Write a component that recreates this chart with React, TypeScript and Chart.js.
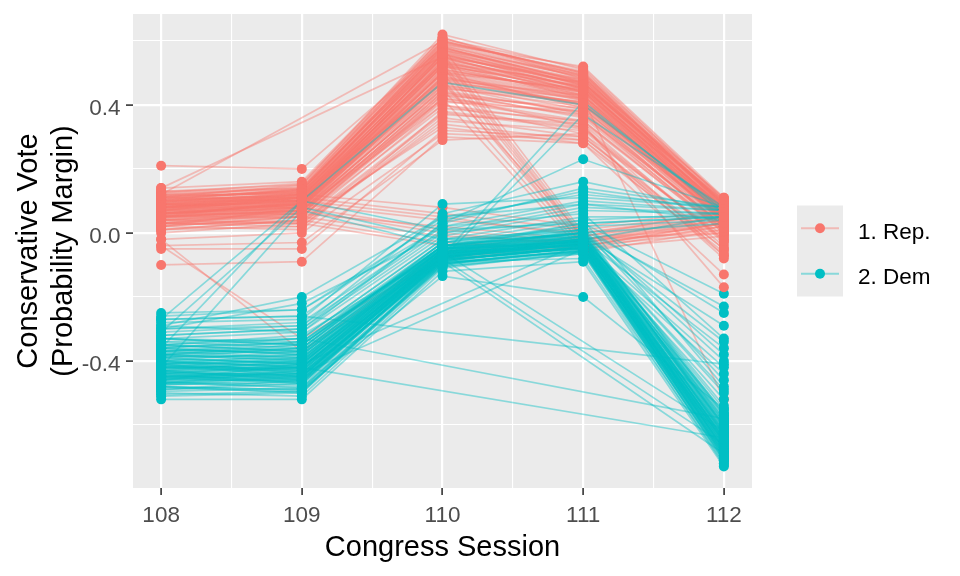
import React, { useEffect, useRef } from "react";
import { Chart, registerables } from "chart.js";

Chart.register(...registerables);

// ---------- data ----------
const sessions = [108, 109, 110, 111, 112];
const xTickLabels = ["108", "109", "110", "111", "112"];
const yTickValues = [-0.4, 0, 0.4];
const yTickLabels = ["-0.4", "0.0", "0.4"];
const xGridValues = [108, 108.5, 109, 109.5, 110, 110.5, 111, 111.5, 112];
const yGridValues = [-0.6, -0.4, -0.2, 0, 0.2, 0.4, 0.6];
const partyLabels = ["1. Rep.", "2. Dem"];
const xTitle = "Congress Session";
const yTitleLines = ["Conservative Vote", "(Probability Margin)"];

// Republicans: one entry per legislator in each session (null = absent)
const rep108 = [
  0.01, 0.02, 0.0, 0.03, 0.02, 0.04, 0.03, 0.05, 0.04, 0.06,
  0.05, 0.07, 0.06, 0.08, 0.07, 0.06, 0.08, 0.09, 0.07, 0.08,
  0.09, 0.1, 0.08, 0.09, 0.1, 0.11, 0.09, 0.1, 0.11, 0.12,
  0.1, 0.11, 0.12, 0.13, 0.12, 0.11, 0.14, 0.06, 0.07, 0.05,
  0.08, 0.09, 0.04, 0.1, 0.07, 0.03, 0.01, -0.02, -0.04, 0.13,
  0.08, 0.06, 0.09, 0.05, 0.11, -0.05, 0.06, 0.08, 0.05, 0.09,
  0.07, 0.1, 0.04, 0.04, 0.02, 0.06, 0.03, 0.05, 0.01, 0.07,
  0.03, 0.08, 0.02, 0.14, 0.12, 0.21, -0.1, -0.04, -0.02, 0.05,
  0.08, 0.03, 0.055, 0.075, 0.085, 0.105, 0.095, 0.065, 0.045, 0.115,
  0.125, 0.035, 0.085, 0.075, 0.095, 0.105, 0.065, 0.055, 0.085, 0.115,
  0.025, 0.095, 0.075, 0.105, 0.045, 0.125, 0.065, 0.085, 0.095, 0.055,
  0.115, 0.075, 0.06, 0.08, 0.05,
];
const rep109 = [
  0.02, 0.01, 0.03, 0.04, 0.05, 0.03, 0.06, 0.05, 0.07, 0.06,
  0.08, 0.07, 0.09, 0.08, 0.1, 0.07, 0.09, 0.11, 0.08, 0.1,
  0.09, 0.11, 0.12, 0.1, 0.12, 0.11, 0.13, 0.12, 0.13, 0.12,
  0.14, 0.13, 0.14, 0.15, 0.13, 0.15, 0.16, 0.08, 0.09, 0.06,
  0.1, 0.08, 0.05, 0.1, 0.11, 0.02, 0.04, 0.0, -0.03, 0.14,
  0.11, 0.09, 0.12, 0.07, 0.1, -0.05, 0.08, 0.1, 0.07, 0.11,
  0.09, 0.12, 0.06, 0.06, 0.05, 0.09, 0.07, 0.1, 0.04, 0.11,
  0.03, 0.12, 0.08, null, null, 0.2, -0.09, -0.33, -0.37, 0.07,
  0.1, 0.05, 0.065, 0.095, 0.115, 0.135, 0.115, 0.075, 0.065, 0.125,
  0.155, 0.055, 0.095, 0.105, 0.125, 0.115, 0.085, 0.085, 0.125, 0.145,
  0.035, 0.105, 0.085, 0.135, 0.075, 0.135, 0.095, 0.105, 0.135, 0.095,
  0.125, 0.115, 0.09, 0.11, 0.08,
];
const rep110 = [
  0.36, 0.38, 0.34, 0.4, 0.42, 0.37, 0.44, 0.41, 0.46, 0.43,
  0.48, 0.45, 0.5, 0.47, 0.52, 0.49, 0.51, 0.53, 0.5, 0.54,
  0.52, 0.55, 0.56, 0.53, 0.57, 0.55, 0.58, 0.56, 0.59, 0.57,
  0.6, 0.58, 0.61, 0.62, 0.59, 0.6, 0.61, 0.46, 0.48, 0.44,
  0.51, 0.49, 0.39, 0.54, 0.55, 0.35, 0.33, 0.31, 0.29, 0.57,
  0.53, 0.47, 0.56, 0.42, 0.52, 0.32, 0.5, 0.55, 0.45, 0.58,
  0.52, 0.47, 0.42, 0.02, -0.01, 0.04, 0.0, 0.05, -0.03, 0.06,
  -0.04, 0.08, 0.01, 0.55, 0.6, 0.58, 0.3, -0.08, -0.06, 0.4,
  0.5, 0.43, 0.455, 0.495, 0.545, 0.585, 0.555, 0.475, 0.435, 0.575,
  0.605, 0.415, 0.525, 0.515, 0.565, 0.545, 0.485, 0.465, 0.555, 0.595,
  0.375, 0.535, 0.505, 0.575, 0.445, 0.585, 0.505, 0.535, 0.595, 0.485,
  0.565, 0.525, 0.53, 0.48, 0.56,
];
const rep111 = [
  0.3, 0.33, 0.29, 0.31, 0.35, 0.34, 0.36, 0.38, 0.37, 0.39,
  0.4, 0.41, 0.39, 0.42, 0.43, 0.4, 0.44, 0.42, 0.45, 0.43,
  0.46, 0.44, 0.45, 0.47, 0.46, 0.48, 0.47, 0.45, 0.49, 0.48,
  0.5, 0.47, 0.49, 0.51, 0.52, 0.5, 0.48, 0.41, 0.43, 0.38,
  0.44, 0.42, 0.35, 0.46, 0.44, 0.32, 0.28, 0.29, 0.31, 0.49,
  0.45, 0.4, 0.47, 0.37, 0.43, 0.3, -0.04, -0.02, -0.05, 0.0,
  -0.03, -0.01, -0.06, -0.02, -0.03, 0.0, -0.04, -0.01, -0.05, 0.01,
  -0.02, 0.02, -0.03, 0.47, 0.5, 0.46, 0.28, -0.04, -0.02, 0.34,
  0.42, 0.33, 0.395, 0.415, 0.455, 0.485, 0.465, 0.405, 0.365, 0.495,
  0.515, 0.345, 0.445, 0.425, 0.475, 0.455, 0.415, 0.385, 0.465, 0.505,
  0.325, 0.435, 0.445, 0.475, 0.375, 0.485, 0.425, 0.455, 0.495, 0.405,
  0.465, 0.445, -0.02, -0.04, -0.01,
];
const rep112 = [
  -0.04, -0.02, -0.05, -0.01, 0.0, -0.03, 0.01, 0.02, 0.0, 0.03,
  0.02, 0.04, 0.01, 0.05, 0.03, 0.06, 0.04, 0.05, 0.07, 0.06,
  0.04, 0.07, 0.05, 0.08, 0.06, 0.07, 0.09, 0.08, 0.06, 0.09,
  0.08, 0.1, 0.09, 0.1, 0.11, 0.1, 0.11, 0.03, 0.05, 0.02,
  0.06, 0.04, 0.01, 0.07, 0.05, -0.02, -0.06, -0.07, -0.08, 0.09,
  0.08, 0.04, 0.07, 0.02, 0.06, -0.05, 0.03, 0.05, 0.02, 0.06,
  0.04, 0.07, 0.01, 0.03, 0.01, 0.05, 0.02, 0.04, -0.01, 0.06,
  0.0, 0.07, 0.03, 0.08, 0.09, 0.1, -0.13, 0.0, 0.02, -0.17,
  -0.52, -0.07, 0.035, 0.055, 0.065, 0.085, 0.075, 0.045, 0.025, 0.095,
  0.105, 0.005, 0.065, 0.055, 0.085, 0.075, 0.035, 0.045, 0.095, 0.105,
  -0.025, 0.065, 0.055, 0.085, 0.015, 0.095, 0.045, 0.075, 0.085, 0.035,
  0.075, 0.065, 0.04, 0.03, 0.05,
];

// Democrats
const dem108 = [
  -0.5, -0.48, -0.51, -0.47, -0.49, -0.46, -0.45, -0.47, -0.44, -0.46,
  -0.43, -0.45, -0.42, -0.44, -0.41, -0.43, -0.4, -0.42, -0.39, -0.41,
  -0.38, -0.4, -0.37, -0.39, -0.36, -0.38, -0.35, -0.37, -0.34, -0.36,
  -0.33, -0.49, -0.48, -0.45, -0.43, -0.47, -0.42, -0.44, -0.4, -0.46,
  -0.41, -0.52, -0.3, -0.27, -0.32, -0.29, -0.34, -0.31, -0.36, -0.28,
  -0.33, -0.38, -0.26, -0.35, -0.36, -0.4, -0.33, -0.42, -0.37, -0.44,
  -0.39, -0.45, -0.35, -0.41, -0.47, -0.38, -0.31, -0.42, -0.36, -0.27,
  -0.4, -0.38, -0.44, -0.41, -0.46, -0.35, -0.27, -0.43, -0.45, -0.42,
  -0.48, -0.32, -0.25, -0.29, -0.3, -0.445, -0.475, -0.415, -0.385, -0.455,
  -0.495, -0.435, -0.405, -0.465, -0.425, -0.365, -0.485, -0.445, -0.395, -0.455,
  -0.435, -0.475, -0.415, -0.375, -0.465, -0.425, -0.505, -0.405, -0.445, -0.385,
  -0.435, -0.465, -0.355, -0.415, -0.455, -0.33, -0.3, -0.37, -0.39, -0.43,
];
const dem109 = [
  -0.51, -0.49, -0.5, -0.48, -0.47, -0.46, -0.47, -0.45, -0.44, -0.43,
  -0.45, -0.42, -0.44, -0.41, -0.43, -0.4, -0.42, -0.39, -0.41, -0.38,
  -0.4, -0.37, -0.39, -0.36, -0.38, -0.35, -0.37, -0.34, -0.36, -0.33,
  -0.35, -0.46, -0.5, -0.44, -0.46, -0.43, -0.42, -0.47, -0.44, -0.41,
  -0.45, -0.52, -0.28, -0.26, -0.3, -0.31, -0.33, -0.29, -0.34, -0.27,
  -0.35, -0.36, -0.24, -0.32, -0.38, -0.39, -0.34, -0.43, -0.36, -0.42,
  -0.41, -0.46, -0.37, -0.4, -0.45, -0.39, 0.08, 0.07, 0.1, 0.1,
  -0.42, -0.37, -0.45, -0.4, -0.44, -0.33, -0.26, -0.42, -0.44, -0.41,
  -0.49, -0.3, -0.24, -0.2, -0.22, -0.435, -0.465, -0.425, -0.385, -0.445,
  -0.485, -0.455, -0.395, -0.475, -0.415, -0.375, -0.495, -0.465, -0.405, -0.425,
  -0.445, -0.455, -0.435, -0.365, -0.445, -0.405, -0.495, -0.415, -0.455, -0.395,
  -0.425, -0.485, -0.345, -0.405, -0.465, -0.31, -0.29, -0.35, -0.38, -0.42,
];
const dem110 = [
  -0.11, -0.1, -0.09, -0.1, -0.08, -0.09, -0.08, -0.07, -0.08, -0.07,
  -0.06, -0.07, -0.08, -0.06, -0.07, -0.05, -0.06, -0.07, -0.05, -0.06,
  -0.04, -0.05, -0.06, -0.04, -0.05, -0.03, -0.04, -0.05, -0.03, -0.02,
  -0.04, -0.09, -0.1, -0.08, -0.07, -0.08, -0.06, -0.09, -0.07, -0.06,
  -0.08, -0.12, 0.02, 0.05, 0.0, 0.03, -0.02, 0.06, -0.04, 0.09,
  -0.05, -0.03, 0.04, -0.06, -0.05, -0.06, -0.03, -0.07, -0.04, -0.08,
  -0.05, -0.09, -0.04, -0.06, -0.07, -0.05, -0.02, -0.04, 0.01, 0.47,
  -0.07, -0.08, -0.08, -0.06, -0.09, null, null, null, null, null,
  -0.135, 0.03, 0.02, 0.05, 0.0, -0.075, -0.095, -0.065, -0.055, -0.085,
  -0.105, -0.075, -0.065, -0.085, -0.075, -0.045, -0.095, -0.085, -0.065, -0.075,
  -0.075, -0.095, -0.065, -0.055, -0.085, -0.075, -0.105, -0.065, -0.085, -0.055,
  -0.075, -0.095, -0.045, -0.065, -0.085, -0.01, 0.01, -0.04, -0.05, -0.06,
];
const dem111 = [
  -0.06, -0.05, -0.08, -0.04, -0.05, -0.06, -0.03, -0.04, -0.05, -0.02,
  -0.04, -0.03, -0.02, -0.05, -0.03, -0.01, -0.04, -0.02, -0.03, -0.01,
  -0.04, -0.02, 0.0, -0.03, -0.01, -0.02, 0.0, -0.03, 0.01, -0.01,
  0.0, -0.04, -0.06, -0.03, -0.05, -0.02, -0.04, -0.03, -0.05, -0.02,
  -0.06, -0.09, 0.1, 0.12, 0.08, 0.14, 0.05, 0.16, 0.02, 0.11,
  0.0, 0.04, 0.13, -0.02, 0.03, 0.01, 0.02, -0.01, 0.0, -0.02,
  -0.03, -0.04, 0.01, -0.02, -0.03, -0.01, 0.01, 0.0, 0.03, 0.4,
  0.41, 0.37, null, null, null, null, null, null, -0.05, -0.03,
  -0.2, 0.23, 0.06, 0.09, 0.04, -0.035, -0.055, -0.025, -0.015, -0.045,
  -0.065, -0.035, -0.025, -0.045, -0.035, -0.005, -0.055, -0.045, -0.025, -0.035,
  -0.045, -0.055, -0.035, -0.015, -0.045, -0.025, -0.065, -0.035, -0.045, -0.025,
  -0.035, -0.055, 0.005, -0.025, -0.045, 0.07, 0.09, 0.03, 0.0, -0.02,
];
const dem112 = [
  -0.71, -0.7, -0.72, -0.68, -0.69, -0.67, -0.66, -0.7, -0.65, -0.68,
  -0.64, -0.67, -0.63, -0.66, -0.62, -0.65, -0.64, -0.61, -0.63, -0.6,
  -0.62, -0.59, -0.61, -0.58, -0.6, -0.57, -0.59, -0.56, -0.58, -0.55,
  -0.57, -0.69, -0.71, -0.67, -0.66, -0.68, -0.64, -0.7, -0.65, -0.63,
  -0.69, -0.73, 0.07, 0.08, 0.06, 0.08, 0.05, 0.07, 0.04, 0.08,
  0.03, 0.06, 0.07, 0.05, -0.19, -0.23, -0.25, -0.29, -0.34, -0.36,
  -0.42, -0.44, -0.46, -0.49, -0.52, -0.54, -0.38, -0.62, 0.05, 0.07,
  0.06, 0.08, -0.66, -0.62, -0.69, -0.58, -0.41, -0.64, -0.65, -0.6,
  -0.55, 0.08, -0.33, 0.04, -0.48, -0.665, -0.695, -0.635, -0.605, -0.675,
  -0.705, -0.655, -0.625, -0.685, -0.645, -0.585, -0.715, -0.675, -0.615, -0.655,
  -0.665, -0.695, -0.635, -0.595, -0.685, -0.645, -0.725, -0.625, -0.675, -0.605,
  -0.655, -0.705, -0.565, -0.645, -0.685, 0.06, 0.07, 0.05, -0.4, -0.5,
];

// ---------- styling ----------
const FONT = '"Liberation Sans", Arial, Helvetica, sans-serif';
const REP_COLOR = "#F8766D";
const DEM_COLOR = "#00BFC4";
const REP_LINE = "rgba(248,118,109,0.42)";
const DEM_LINE = "rgba(0,191,196,0.42)";
const PANEL_BG = "#EBEBEB";

type Pt = { x: number; y: number };

function rowsFrom(cols: (number | null)[][]): Pt[][] {
  const n = cols[0].length;
  const rows: Pt[][] = [];
  for (let i = 0; i < n; i++) {
    const pts: Pt[] = [];
    sessions.forEach((s, k) => {
      const v = cols[k][i];
      if (v !== null && v !== undefined) pts.push({ x: s, y: v });
    });
    rows.push(pts);
  }
  return rows;
}

function median(arr: number[]): number {
  const s = [...arr].sort((a, b) => a - b);
  return s[Math.floor(s.length / 2)];
}

const isMajorX = (v: number) => Math.abs(v - Math.round(v)) < 1e-6;
const isMajorY = (v: number) => yTickValues.some((t) => Math.abs(t - v) < 1e-6);

export default function App() {
  const ref = useRef<HTMLCanvasElement | null>(null);

  useEffect(() => {
    document.body.style.margin = "0";
    const canvas = ref.current;
    if (!canvas) return;

    const repCols = [rep108, rep109, rep110, rep111, rep112];
    const demCols = [dem108, dem109, dem110, dem111, dem112];
    const repRows = rowsFrom(repCols);
    const demRows = rowsFrom(demCols);

    const repMed = repCols.map((c) => median(c.filter((v) => v !== null) as number[]));
    const demMed = demCols.map((c) => median(c.filter((v) => v !== null) as number[]));

    // points lying in the other party's cloud are drawn first (underneath)
    const stray: { p: Pt; c: string }[] = [];
    const repNormal: { p: Pt; c: string }[] = [];
    const demNormal: { p: Pt; c: string }[] = [];
    const addPts = (rows: Pt[][], own: number[], other: number[], color: string, bucket: { p: Pt; c: string }[]) => {
      rows.forEach((r) =>
        r.forEach((p) => {
          const k = sessions.indexOf(p.x);
          const isStray = Math.abs(p.y - other[k]) < Math.abs(p.y - own[k]);
          (isStray ? stray : bucket).push({ p, c: color });
        })
      );
    };
    addPts(repRows, repMed, demMed, REP_COLOR, repNormal);
    addPts(demRows, demMed, repMed, DEM_COLOR, demNormal);
    const allPts = [...stray, ...repNormal, ...demNormal];

    const datasets: any[] = [];
    datasets.push({
      type: "scatter",
      data: allPts.map((o) => o.p),
      pointBackgroundColor: allPts.map((o) => o.c),
      pointBorderWidth: 0,
      pointRadius: 5,
      showLine: false,
      order: 0,
    });
    const lineDs = (pts: Pt[], color: string, order: number) => ({
      type: "line",
      data: pts,
      borderColor: color,
      borderWidth: 1.7,
      pointRadius: 0,
      fill: false,
      tension: 0,
      order,
    });
    demRows.forEach((r) => datasets.push(lineDs(r, DEM_LINE, 1)));
    repRows.forEach((r) => datasets.push(lineDs(r, REP_LINE, 2)));

    const decor = {
      id: "decor",
      beforeDraw(chart: any) {
        const { ctx, chartArea: a } = chart;
        ctx.save();
        ctx.fillStyle = PANEL_BG;
        ctx.fillRect(a.left, a.top, a.right - a.left, a.bottom - a.top);
        ctx.restore();
      },
      afterDraw(chart: any) {
        const { ctx, chartArea: a } = chart;
        const xs = chart.scales.x;
        const ys = chart.scales.y;
        ctx.save();
        // tick labels
        ctx.fillStyle = "#4D4D4D";
        ctx.font = `22.5px ${FONT}`;
        ctx.textBaseline = "alphabetic";
        ctx.textAlign = "center";
        sessions.forEach((s, i) => ctx.fillText(xTickLabels[i], xs.getPixelForValue(s), a.bottom + 33.5));
        ctx.textAlign = "right";
        yTickValues.forEach((v, i) => ctx.fillText(yTickLabels[i], a.left - 12.5, ys.getPixelForValue(v) + 10.5));

        // axis titles
        ctx.fillStyle = "#000000";
        ctx.font = `29px ${FONT}`;
        ctx.textAlign = "center";
        ctx.fillText(xTitle, (a.left + a.right) / 2, a.bottom + 68);
        const cy = (a.top + a.bottom) / 2;
        yTitleLines.forEach((t, i) => {
          ctx.save();
          ctx.translate(a.left - 96.5 + i * 35, cy);
          ctx.rotate(-Math.PI / 2);
          ctx.fillText(t, 0, 0);
          ctx.restore();
        });

        // legend
        const keyX = a.right + 45;
        const keyW = 46;
        const keyH = 45.5;
        const top = cy - keyH;
        const cols = [REP_COLOR, DEM_COLOR];
        const lines = [REP_LINE, DEM_LINE];
        ctx.fillStyle = PANEL_BG;
        ctx.fillRect(keyX, top, keyW, keyH * 2);
        partyLabels.forEach((lab, i) => {
          const yc = top + keyH * i + keyH / 2;
          ctx.strokeStyle = lines[i];
          ctx.lineWidth = 2;
          ctx.beginPath();
          ctx.moveTo(keyX + 4, yc);
          ctx.lineTo(keyX + keyW - 4, yc);
          ctx.stroke();
          ctx.fillStyle = cols[i];
          ctx.beginPath();
          ctx.arc(keyX + keyW / 2, yc, 5, 0, Math.PI * 2);
          ctx.fill();
          ctx.fillStyle = "#000000";
          ctx.font = `22.5px ${FONT}`;
          ctx.textAlign = "left";
          ctx.fillText(lab, keyX + 61, yc + 10.3);
        });
        ctx.restore();
      },
    };

    const gridCommon = (major: (v: number) => boolean) => ({
      color: "#FFFFFF",
      lineWidth: (c: any) => (c.tick && major(c.tick.value) ? 2.2 : 1.1),
      drawTicks: true,
      tickLength: 7,
      tickWidth: 1.6,
      tickColor: (c: any) => (c.tick && major(c.tick.value) ? "#333333" : "rgba(0,0,0,0)"),
    });

    const chart = new Chart(canvas, {
      type: "line",
      data: { datasets },
      options: {
        animation: false,
        responsive: false,
        events: [],
        layout: { padding: { left: 0, top: 14, right: 208, bottom: 0 } },
        plugins: { legend: { display: false }, tooltip: { enabled: false } },
        scales: {
          x: {
            type: "linear",
            min: 107.8,
            max: 112.2,
            afterBuildTicks: (s: any) => {
              s.ticks = xGridValues.map((v) => ({ value: v }));
            },
            afterFit: (s: any) => {
              s.height = 88;
            },
            ticks: { display: false },
            grid: gridCommon(isMajorX),
            border: { display: false },
          },
          y: {
            type: "linear",
            min: -0.797,
            max: 0.684,
            afterBuildTicks: (s: any) => {
              s.ticks = yGridValues.map((v) => ({ value: v }));
            },
            afterFit: (s: any) => {
              s.width = 133;
            },
            ticks: { display: false },
            grid: gridCommon(isMajorY),
            border: { display: false },
          },
        },
      } as any,
      plugins: [decor],
    });

    return () => chart.destroy();
  }, []);

  return (
    <div style={{ width: 960, height: 576, background: "#FFFFFF" }}>
      <canvas ref={ref} width={960} height={576} style={{ display: "block" }} />
    </div>
  );
}
